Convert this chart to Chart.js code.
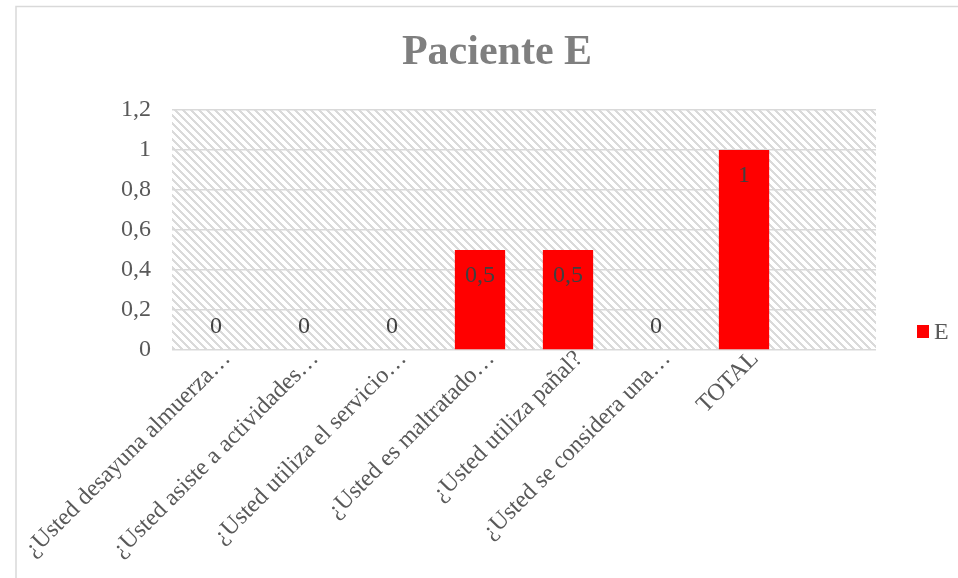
<!DOCTYPE html>
<html>
<head>
<meta charset="utf-8">
<script src="https://cdn.jsdelivr.net/npm/chart.js@4/dist/chart.umd.min.js"></script>
<style>
  html, body { margin: 0; padding: 0; background: #ffffff; overflow: hidden; }
  #wrap { position: absolute; left: 0; top: 0; width: 958px; height: 578px; }
</style>
</head>
<body>
<div id="wrap"><canvas id="chart" width="958" height="578"></canvas></div>
<script>
// Questions asked to the patient (last slot left blank)
const categories = [
  "¿Usted desayuna almuerza…",
  "¿Usted asiste a actividades…",
  "¿Usted utiliza el servicio…",
  "¿Usted es maltratado…",
  "¿Usted utiliza pañal?",
  "¿Usted se considera una…",
  "TOTAL",
  ""
];
// Scores for patient E
const seriesName = "E";
const seriesValues = [0, 0, 0, 0.5, 0.5, 0, 1, null];
// Value axis range
const yMin = 0;
const yMax = 1.2;
const yStep = 0.2;

const SERIF = '"Liberation Serif", "Times New Roman", serif';

function fmtComma(v) {
  return String(Number(v.toFixed(1))).replace('.', ',');
}

// Light diagonal hatch tile used behind the bars
function makeHatch() {
  const c = document.createElement('canvas');
  c.width = 8; c.height = 8;
  const g = c.getContext('2d');
  g.fillStyle = '#ffffff';
  g.fillRect(0, 0, 8, 8);
  g.fillStyle = '#dadada';
  for (let y = 0; y < 8; y++) {
    for (let x = 0; x < 8; x++) {
      const d = ((x - y) % 8 + 8) % 8;
      if (d <= 2) g.fillRect(x, y, 1, 1);
    }
  }
  return c;
}

const framePlugin = {
  id: 'frame',
  beforeDraw(chart) {
    const ctx = chart.ctx;
    const a = chart.chartArea;
    ctx.save();
    // outer chart frame
    ctx.strokeStyle = '#d9d9d9';
    ctx.lineWidth = 1.5;
    ctx.beginPath();
    ctx.moveTo(16, 578);
    ctx.lineTo(16, 6.5);
    ctx.lineTo(958, 6.5);
    ctx.stroke();
    // hatched plot area
    ctx.fillStyle = ctx.createPattern(makeHatch(), 'repeat');
    ctx.fillRect(a.left, a.top, a.right - a.left, a.bottom - a.top);
    ctx.restore();
  }
};

const valueLabelPlugin = {
  id: 'valueLabels',
  afterDatasetsDraw(chart) {
    const ctx = chart.ctx;
    ctx.save();
    ctx.font = '24px ' + SERIF;
    ctx.fillStyle = '#404040';
    ctx.textAlign = 'center';
    ctx.textBaseline = 'middle';
    chart.data.datasets.forEach((ds, di) => {
      const meta = chart.getDatasetMeta(di);
      meta.data.forEach((bar, i) => {
        const v = ds.data[i];
        if (v === null || v === undefined) return;
        const y = v > 0 ? bar.y + 26 : bar.base - 23;
        ctx.fillText(fmtComma(v), bar.x, y);
      });
    });
    ctx.restore();
  }
};

const legendPlugin = {
  id: 'sideLegend',
  afterDraw(chart) {
    const ctx = chart.ctx;
    const a = chart.chartArea;
    const ds = chart.data.datasets[0];
    const x = a.right + 41;
    const cy = a.bottom - 18.5;
    ctx.save();
    ctx.fillStyle = ds.backgroundColor;
    ctx.fillRect(x, cy - 6.5, 12, 13);
    ctx.font = '24px ' + SERIF;
    ctx.fillStyle = '#595959';
    ctx.textAlign = 'left';
    ctx.textBaseline = 'alphabetic';
    ctx.fillText(ds.label, x + 17, cy + 7.5);
    ctx.restore();
  }
};

new Chart(document.getElementById('chart'), {
  type: 'bar',
  data: {
    labels: categories,
    datasets: [{
      label: seriesName,
      data: seriesValues,
      backgroundColor: '#ff0000',
      borderWidth: 0,
      categoryPercentage: 1,
      barPercentage: 1 / 1.75
    }]
  },
  options: {
    responsive: false,
    animation: false,
    devicePixelRatio: 1,
    layout: {
      autoPadding: false,
      padding: { left: 118, right: 82, top: 0, bottom: 0 }
    },
    plugins: {
      legend: { display: false },
      tooltip: { enabled: false },
      title: {
        display: true,
        text: 'Paciente E',
        color: '#7f7f7f',
        font: { family: SERIF, size: 42, weight: 'bold', lineHeight: 1.2 },
        padding: { top: 28, bottom: 31.6 }
      }
    },
    scales: {
      x: {
        grid: { display: false, drawTicks: false },
        border: { display: false },
        ticks: {
          autoSkip: false,
          minRotation: 45,
          maxRotation: 45,
          padding: -5,
          labelOffset: 11,
          color: '#595959',
          font: { family: SERIF, size: 24 }
        },
        afterFit(scale) { scale.height = 228; }
      },
      y: {
        min: yMin,
        max: yMax,
        grid: { color: '#d9d9d9', lineWidth: 1.5, drawTicks: false },
        border: { display: false },
        ticks: {
          stepSize: yStep,
          padding: 21,
          color: '#595959',
          font: { family: SERIF, size: 24 },
          callback: (v) => fmtComma(v)
        },
        afterFit(scale) { scale.width = 54; }
      }
    }
  },
  plugins: [framePlugin, valueLabelPlugin, legendPlugin]
});
</script>
</body>
</html>
